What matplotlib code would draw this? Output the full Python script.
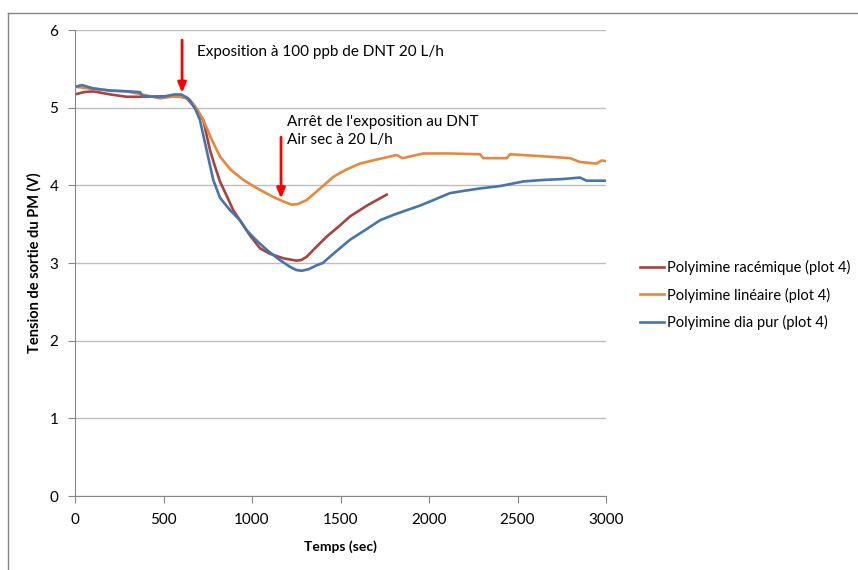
import matplotlib

matplotlib.use('Agg')
import matplotlib.pyplot as plt
from matplotlib.lines import Line2D

plt.rcParams['font.family'] = ['Lato', 'DejaVu Sans']

# Polyimine racémique (plot 4)
t_rac = [0, 50, 103, 200, 292, 400, 537, 600, 631, 680, 725, 763, 790, 819, 860, 894, 932,
         990, 1045, 1100, 1177, 1252, 1280, 1309, 1360, 1422, 1490, 1554, 1650, 1761]
v_rac = [5.17, 5.20, 5.21, 5.17, 5.14, 5.14, 5.15, 5.14, 5.12, 5.00, 4.84, 4.45, 4.25, 4.05,
         3.85, 3.68, 3.55, 3.35, 3.19, 3.12, 3.06, 3.03, 3.04, 3.08, 3.20, 3.34, 3.47, 3.60,
         3.74, 3.88]

# Polyimine linéaire (plot 4)
t_lin = [0, 100, 200, 292, 400, 480, 574, 620, 650, 690, 725, 770, 819, 880, 951, 1030,
         1120, 1180, 1224, 1260, 1309, 1380, 1460, 1530, 1610, 1700, 1817, 1850, 1968, 2119,
         2288, 2307, 2439, 2458, 2600, 2797, 2853, 2947, 2975, 3000]
v_lin = [5.27, 5.24, 5.22, 5.21, 5.16, 5.12, 5.15, 5.13, 5.10, 4.98, 4.84, 4.60, 4.37, 4.20,
         4.07, 3.96, 3.85, 3.79, 3.75, 3.76, 3.81, 3.95, 4.11, 4.20, 4.28, 4.33, 4.39, 4.35,
         4.41, 4.41, 4.40, 4.35, 4.35, 4.40, 4.38, 4.35, 4.30, 4.28, 4.32, 4.31]

# Polyimine dia pur (plot 4)
t_dia = [0, 40, 100, 200, 300, 367, 380, 450, 500, 560, 600, 640, 680, 706, 744, 781, 819,
         876, 932, 970, 1030, 1083, 1150, 1215, 1250, 1281, 1320, 1365, 1400, 1460, 1554,
         1650, 1723, 1800, 1874, 1950, 2025, 2045, 2119, 2200, 2288, 2400, 2533, 2650, 2750,
         2853, 2890, 3000]
v_dia = [5.27, 5.29, 5.25, 5.22, 5.21, 5.20, 5.15, 5.14, 5.14, 5.17, 5.17, 5.12, 4.98, 4.84,
         4.45, 4.07, 3.84, 3.68, 3.55, 3.42, 3.28, 3.17, 3.05, 2.95, 2.91, 2.90, 2.92, 2.97,
         3.00, 3.12, 3.30, 3.44, 3.55, 3.62, 3.68, 3.74, 3.81, 3.83, 3.90, 3.93, 3.96, 3.99,
         4.05, 4.07, 4.08, 4.10, 4.06, 4.06]

labels = ['Polyimine racémique (plot 4)', 'Polyimine linéaire (plot 4)',
          'Polyimine dia pur (plot 4)']
colors = ['#A8433F', '#E8883A', '#4674B0']

# start / stop of DNT exposure
t_expo = 605
t_stop = 1164

W, H = 858, 570
fig = plt.figure(figsize=(W / 100, H / 100), dpi=100)
ax = fig.add_axes([75 / W, 1 - 496 / H, (606 - 75) / W, (496 - 30) / H])

for t, v, lab, c in zip([t_rac, t_lin, t_dia], [v_rac, v_lin, v_dia], labels, colors):
    ax.plot(t, v, color=c, lw=1.9, label=lab)

ax.set_xlim(0, 3000)
ax.set_ylim(0, 6)
ax.set_xticks(range(0, 3001, 500))
ax.set_yticks(range(0, 7))
ax.grid(axis='y', color='#BEBEBE', lw=1)
ax.set_axisbelow(True)
for s in ['top', 'right']:
    ax.spines[s].set_visible(False)
for s in ['left', 'bottom']:
    ax.spines[s].set_color('#868686')
ax.tick_params(colors='#868686', labelcolor='black', labelsize=11, length=5, direction='out')
ax.tick_params(axis='x', pad=7)
ax.tick_params(axis='y', pad=7)

ax.set_xlabel('Temps (sec)', fontsize=10, fontweight='bold', labelpad=10)
ax.set_ylabel('Tension de sortie du PM (V)', fontsize=10.5, fontweight='bold', labelpad=6)

arrow = dict(arrowstyle='-|>,head_length=0.6,head_width=0.25', color='#FF0000', lw=2,
             shrinkA=0, shrinkB=0)
ax.annotate('', xy=(t_expo, 5.19), xytext=(t_expo, 5.87), arrowprops=arrow)
ax.annotate('', xy=(t_stop, 3.83), xytext=(t_stop, 4.62), arrowprops=arrow)
ax.text(689, 5.72, 'Exposition à 100 ppb de DNT 20 L/h', fontsize=11, va='center')
ax.text(1198, 4.70, "Arrêt de l'exposition au DNT\nAir sec à 20 L/h", fontsize=11,
        va='center', linespacing=1.35)

ax.legend(loc='upper left', bbox_to_anchor=(640 / W, 1 - 260 / H),
          bbox_transform=fig.transFigure, frameon=False, fontsize=10.5,
          handlelength=1.65, handletextpad=0.2, labelspacing=0.85, borderaxespad=0,
          borderpad=0)

# chart area border
y_top = 1 - 13 / H
fig.add_artist(Line2D([8 / W, 8 / W], [0, y_top], color='#868686', lw=1))
fig.add_artist(Line2D([8 / W, 1], [y_top, y_top], color='#868686', lw=1))

plt.savefig('out.png', dpi=100)
